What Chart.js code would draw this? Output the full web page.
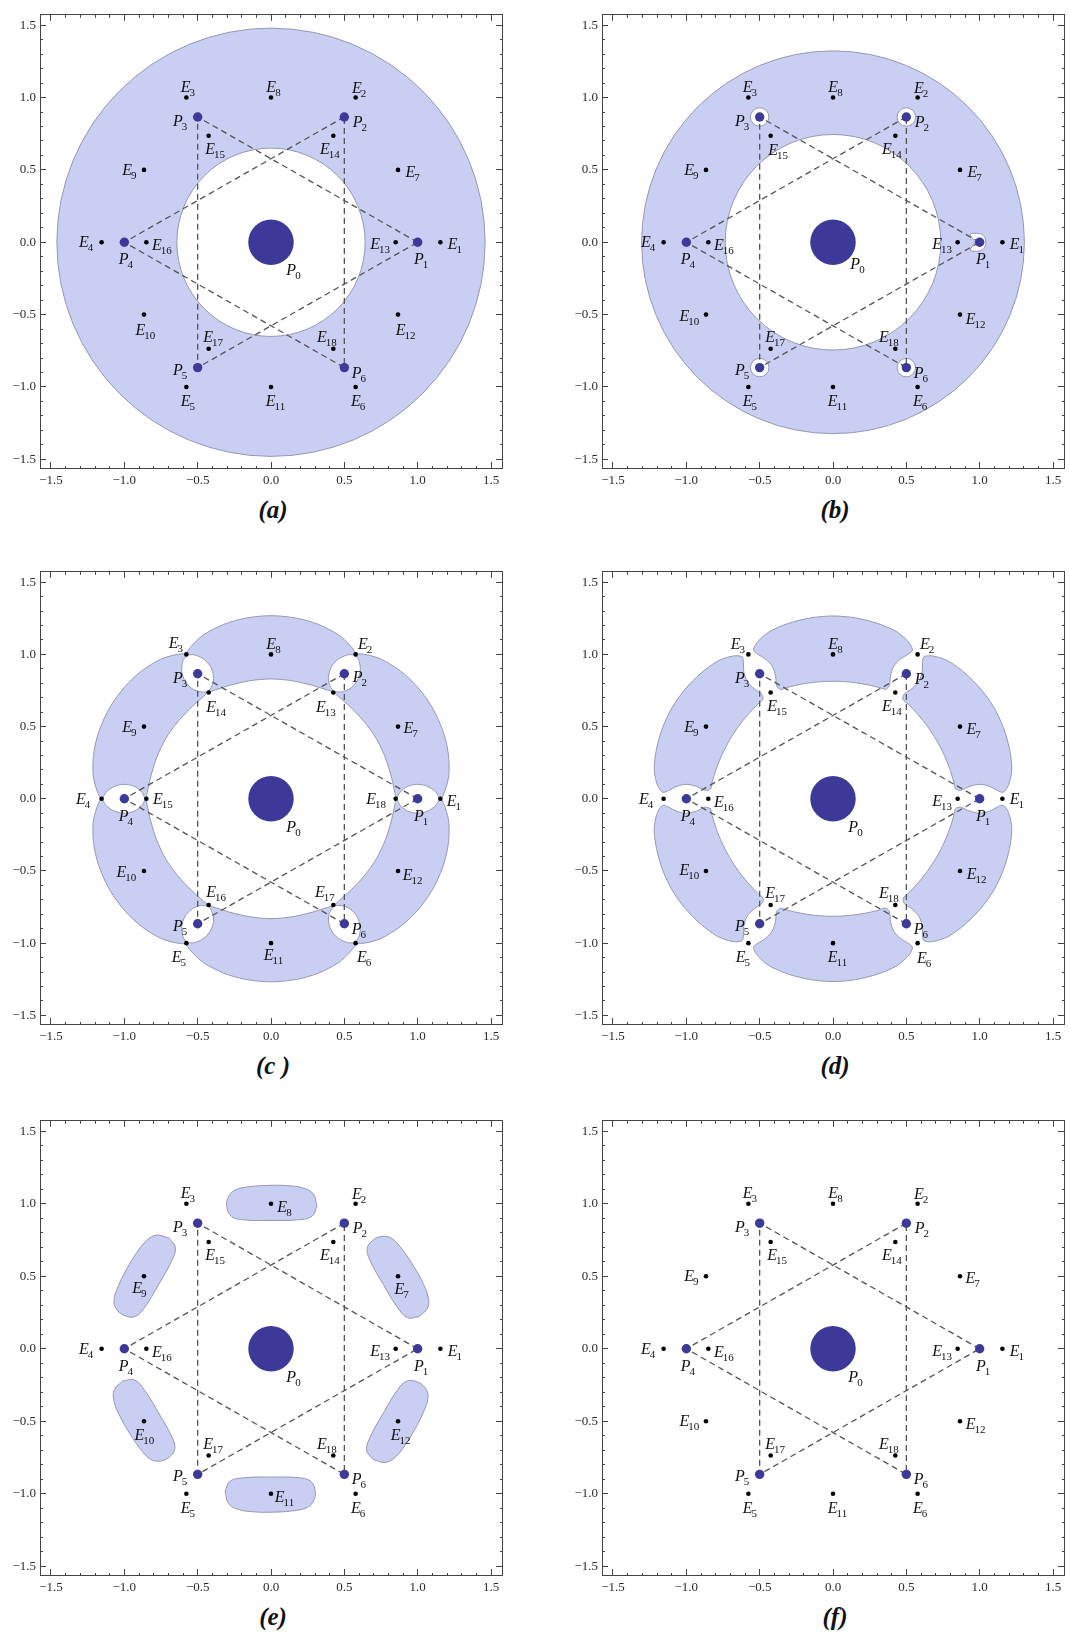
<!DOCTYPE html>
<html>
<head>
<meta charset="utf-8">
<title>Hill regions</title>
<script src="https://cdn.jsdelivr.net/npm/chart.js@4.4.1/dist/chart.umd.min.js"></script>
<style>
  html, body { margin: 0; padding: 0; background: #fff; }
  body { position: relative; width: 1069px; height: 1632px; overflow: hidden; }
  canvas { position: absolute; }
  .caption { position: absolute; transform: translate(-50%, -50%); font: bold italic 25px "Liberation Serif", "DejaVu Serif", serif; color: #111; white-space: pre; }
</style>
</head>
<body>
<script>
// ---- axes ----
var xRange = [-1.575, 1.575];
var yRange = [-1.56, 1.572];
var tickValues = [-1.5, -1, -0.5, 0, 0.5, 1, 1.5];
var tickLabels = ['\u22121.5', '\u22121.0', '\u22120.5', '0.0', '0.5', '1.0', '1.5'];

// ---- primaries P0..P6 ----
var pX = [0, 1, 0.5, -0.5, -1, -0.5, 0.5];
var pY = [0, 0, 0.866, 0.866, 0, -0.866, -0.866];
var p0Radius = 0.155;

// ---- equilibrium points E1..E18 ----
var eX = [1.155, 0.577, -0.577, -1.155, -0.577, 0.577, 0.866, 0, -0.866, -0.866, 0, 0.866, 0.85, 0.425, -0.425, -0.85, -0.425, 0.425];
var eY = [0, 1, 1, 0, -1, -1, 0.5, 1, 0.5, -0.5, -1, -0.5, 0, 0.736, 0.736, 0, -0.736, -0.736];
var eNums = [1, 2, 3, 4, 5, 6, 7, 8, 9, 10, 11, 12, 13, 14, 15, 16, 17, 18];
var eNumsC = [1, 2, 3, 4, 5, 6, 7, 8, 9, 10, 11, 12, 18, 13, 14, 15, 16, 17];

// dashed triangles, as P indices
var triangleA = [1, 3, 5, 1];
var triangleB = [2, 4, 6, 2];

// (a) ring: inner, outer radius
var ringA = [0.642, 1.46];
// (b) ring + small holes
var ringB = [0.735, 1.305];
var holesB = [2, 3, 5, 6];
var holeRadiusB = 0.063;
var notchBX = [-0.03, -0.064, -0.02, 0.015, 0.035, 0.042, 0.035, 0.015, -0.02, -0.064, -0.03];
var notchBY = [0, 0.056, 0.062, 0.055, 0.032, 0, -0.032, -0.055, -0.062, -0.056, 0];
// (c) one 60 degree piece: lobe half (radial u, side v), outer and inner edges (deg, r)
var lobeCU = [0.855, 0.88, 0.93, 1.0, 1.07, 1.125, 1.155];
var lobeCV = [0, 0.045, 0.085, 0.1, 0.085, 0.045, 0];
var outerCAng = [3, 8, 15, 22, 30, 38, 45, 52, 57];
var outerCRad = [1.19, 1.225, 1.25, 1.263, 1.268, 1.263, 1.25, 1.225, 1.19];
var innerCAng = [57, 50, 40, 30, 20, 10, 3];
var innerCRad = [0.845, 0.835, 0.83, 0.83, 0.83, 0.835, 0.845];
// (d)
var lobeDU = [0.835, 0.87, 0.93, 1.0, 1.07, 1.12, 1.16, 1.19, 1.21];
var lobeDV = [0.068, 0.058, 0.085, 0.1, 0.085, 0.058, 0.045, 0.08, 0.14];
var outerDAng = [10, 16, 23, 30, 37, 44, 50];
var outerDRad = [1.238, 1.252, 1.262, 1.266, 1.262, 1.252, 1.238];
var innerDAng = [52, 45, 38, 30, 22, 15, 8];
var innerDRad = [0.832, 0.822, 0.816, 0.814, 0.816, 0.822, 0.832];
// (e) blob around E8
var blobEX = [0.313, 0.29, 0.222, 0.108, 0, -0.144, -0.247, -0.293, -0.3, -0.27, -0.19, 0, 0.176, 0.279];
var blobEY = [0.984, 1.066, 1.108, 1.125, 1.127, 1.118, 1.094, 1.042, 0.972, 0.913, 0.889, 0.885, 0.889, 0.913];

// ---- styling ----
var frameColor = '#444';
var fillBlue = 'rgb(201,206,243)';
var edgeGray = 'rgb(150,152,178)';
var pBlue = 'rgb(60,57,152)';

var panelBoxes = {
  a: {left: 40, top: 5, right: 502, bottom: 468, caption: '(a)'},
  b: {left: 602, top: 5, right: 1064, bottom: 468, caption: '(b)'},
  c: {left: 40, top: 562, right: 502, bottom: 1024, caption: '(c )'},
  d: {left: 602, top: 562, right: 1064, bottom: 1024, caption: '(d)'},
  e: {left: 40, top: 1111, right: 502, bottom: 1575, caption: '(e)'},
  f: {left: 602, top: 1111, right: 1064, bottom: 1575, caption: '(f)'}
};

// label centre offsets in px
var offStd = {
  P0: [23, 28], P1: [4, 17], P2: [16, 5], P3: [-17, 4], P4: [2, 17], P5: [-17, 2], P6: [15, 5],
  E1: [15, 2], E2: [4, -10], E3: [2, -11], E4: [-15, 0], E5: [2, 14], E6: [3, 14],
  E7: [15, 2], E8: [3, -11], E9: [-14, 0], E10: [2, 15], E11: [5, 14], E12: [8, 15],
  E13: [-15, 2], E14: [-3, 13], E15: [7, 13], E16: [16, 3], E17: [5, -12], E18: [-6, -12]
};
var offPanel = {
  a: {},
  b: {E10: [-16, 1], E12: [16, 4], P0: [25, 22], E15: [8, 14]},
  c: {E1: [14, 2], E2: [10, -10], E3: [-10, -11], E4: [-18, 0], E5: [-7, 14], E6: [9, 14], E8: [3, -10], E7: [13, 1],
      E9: [-14, 0], E10: [-17, 1], E11: [3, 12], E12: [15, 4], E13: [-7, 14], E14: [8, 14], E15: [17, 0],
      E16: [8, -13], E17: [-8, -13], E18: [-19, 0], P2: [16, 3]},
  d: {E1: [15, 0], E2: [10, -10], E3: [-10, -10], E4: [-17, 0], E5: [-5, 14], E6: [7, 15], E7: [14, 2],
      E10: [-16, -1], E12: [17, 3], E8: [3, -10]},
  e: {E7: [4, 13], E8: [14, 3], E9: [-4, 12], E10: [1, 14], E11: [14, 3], E12: [3, 14]},
  f: {E10: [-16, 0], E12: [16, 3], E7: [13, 2]}
};

function rot(u, v, deg) {
  var a = deg * Math.PI / 180;
  return {x: u * Math.cos(a) - v * Math.sin(a), y: u * Math.sin(a) + v * Math.cos(a)};
}

function dataPx(chart, r) {
  var s = chart.scales.x;
  return Math.abs(s.getPixelForValue(r) - s.getPixelForValue(0));
}

function isMajor(v) { return Math.abs(v * 2 - Math.round(v * 2)) < 1e-6; }

function tickText(v) {
  for (var i = 0; i < tickValues.length; i++) {
    if (Math.abs(tickValues[i] - v) < 1e-6) return tickLabels[i];
  }
  return '';
}

function frameAxis(pos, range, labelled, size) {
  var horizontal = pos === 'bottom' || pos === 'top';
  var fromBorder = pos === 'bottom' || pos === 'right';
  return {
    type: 'linear', position: pos, min: range[0], max: range[1],
    afterFit: function (s) { if (horizontal) s.height = size; else s.width = size; },
    border: {display: true, color: frameColor, width: 1},
    grid: {
      drawOnChartArea: false, drawTicks: true, tickLength: -6, tickColor: frameColor, tickWidth: 1,
      tickBorderDash: function (c) {
        if (!c.tick || isMajor(c.tick.value)) return [];
        return fromBorder ? [3, 20] : [0, 3, 3, 20];
      }
    },
    ticks: {
      display: labelled, stepSize: 0.1, includeBounds: false, autoSkip: false,
      maxRotation: 0, minRotation: 0, padding: horizontal ? 11 : 10, color: '#2a2a2a',
      font: {family: '"Liberation Serif", "DejaVu Serif", serif', size: 13},
      callback: function (v) { return tickText(v); }
    }
  };
}

function polyDataset(pts, color, order, tension) {
  return {data: pts, showLine: true, fill: 'shape', backgroundColor: color, borderColor: edgeGray,
    borderWidth: 1, pointRadius: 0, tension: tension, order: order};
}

function discDataset(cx, cy, r, color, order) {
  return {data: [{x: cx, y: cy}], showLine: false, fill: false,
    pointRadius: function (c) { return dataPx(c.chart, r); },
    pointBackgroundColor: color, pointBorderColor: edgeGray, pointBorderWidth: 1, order: order};
}

function triangle(idx) {
  return {data: idx.map(function (i) { return {x: pX[i], y: pY[i]}; }), showLine: true, fill: false,
    borderColor: '#555', borderWidth: 1.3, borderDash: [6, 4], pointRadius: 0, tension: 0, order: 3};
}

function markerDatasets() {
  var eData = eX.map(function (x, i) { return {x: x, y: eY[i]}; });
  var pData = [];
  for (var i = 1; i < pX.length; i++) pData.push({x: pX[i], y: pY[i]});
  return [
    triangle(triangleA), triangle(triangleB),
    {data: eData, showLine: false, fill: false, pointRadius: 2.3, pointBackgroundColor: '#000', pointBorderWidth: 0, order: 2},
    {data: pData, showLine: false, fill: false, pointRadius: 4.7, pointBackgroundColor: pBlue, pointBorderWidth: 0, order: 1},
    {data: [{x: pX[0], y: pY[0]}], showLine: false, fill: false,
      pointRadius: function (c) { return dataPx(c.chart, p0Radius); },
      pointBackgroundColor: pBlue, pointBorderWidth: 0, order: 1}
  ];
}

function sectorPiece(k, lu, lv, oa, orr, ia, ir) {
  var base = 60 * k, pts = [], i, p;
  for (i = 0; i < lu.length; i++) pts.push(rot(lu[i], lv[i], base));
  for (i = 0; i < oa.length; i++) pts.push(rot(orr[i], 0, base + oa[i]));
  for (i = lu.length - 1; i >= 0; i--) pts.push(rot(lu[i], -lv[i], base + 60));
  for (i = 0; i < ia.length; i++) pts.push(rot(ir[i], 0, base + ia[i]));
  p = pts[0];
  pts.push({x: p.x, y: p.y});
  return pts;
}

function regionDatasets(key) {
  var ds = [], k, i;
  if (key === 'a') {
    ds.push(discDataset(0, 0, ringA[1], fillBlue, 8));
    ds.push(discDataset(0, 0, ringA[0], '#fff', 7));
  } else if (key === 'b') {
    ds.push(discDataset(0, 0, ringB[1], fillBlue, 8));
    ds.push(discDataset(0, 0, ringB[0], '#fff', 7));
    holesB.forEach(function (j) { ds.push(discDataset(pX[j], pY[j], holeRadiusB, '#fff', 7)); });
    var notch = notchBX.map(function (dx, n) { return {x: pX[1] + dx, y: pY[1] + notchBY[n]}; });
    ds.push(polyDataset(notch, '#fff', 7, 0.3));
  } else if (key === 'c') {
    for (k = 0; k < 6; k++) ds.push(polyDataset(sectorPiece(k, lobeCU, lobeCV, outerCAng, outerCRad, innerCAng, innerCRad), fillBlue, 8, 0.3));
  } else if (key === 'd') {
    for (k = 0; k < 6; k++) ds.push(polyDataset(sectorPiece(k, lobeDU, lobeDV, outerDAng, outerDRad, innerDAng, innerDRad), fillBlue, 8, 0.3));
  } else if (key === 'e') {
    for (k = 0; k < 6; k++) {
      var pts = [];
      for (i = 0; i < blobEX.length; i++) pts.push(rot(blobEX[i], blobEY[i], -60 * k));
      pts.push({x: pts[0].x, y: pts[0].y});
      ds.push(polyDataset(pts, fillBlue, 8, 0.4));
    }
  }
  return ds;
}

function labelItems(key) {
  var items = [], over = offPanel[key], nums = key === 'c' ? eNumsC : eNums;
  function off(name) { return over[name] || offStd[name]; }
  for (var i = 0; i < pX.length; i++) items.push({letter: 'P', sub: String(i), x: pX[i], y: pY[i], off: off('P' + i)});
  for (var j = 0; j < eX.length; j++) items.push({letter: 'E', sub: String(nums[j]), x: eX[j], y: eY[j], off: off('E' + nums[j])});
  return items;
}

function labelPlugin(items) {
  return {
    id: 'pointNames',
    afterDatasetsDraw: function (chart) {
      var ctx = chart.ctx, xs = chart.scales.x, ys = chart.scales.y;
      ctx.save();
      ctx.fillStyle = '#111';
      ctx.textAlign = 'left';
      ctx.textBaseline = 'alphabetic';
      items.forEach(function (it) {
        var cx = xs.getPixelForValue(it.x) + it.off[0];
        var cy = ys.getPixelForValue(it.y) + it.off[1];
        ctx.font = 'italic 16px "Liberation Serif", serif';
        var w1 = ctx.measureText(it.letter).width;
        ctx.font = '11px "Liberation Serif", serif';
        var w2 = ctx.measureText(it.sub).width;
        var x0 = cx - (w1 + w2) / 2;
        ctx.font = 'italic 16px "Liberation Serif", serif';
        ctx.fillText(it.letter, x0, cy + 5);
        ctx.font = '11px "Liberation Serif", serif';
        ctx.fillText(it.sub, x0 + w1 - 1, cy + 9);
      });
      ctx.restore();
    }
  };
}

function buildPanel(key) {
  var box = panelBoxes[key];
  var w = box.right - box.left + 52, h = box.bottom - box.top + 32;
  var canvas = document.createElement('canvas');
  canvas.width = w; canvas.height = h;
  canvas.style.left = (box.left - 40) + 'px';
  canvas.style.top = (box.top - 8) + 'px';
  canvas.style.width = w + 'px';
  canvas.style.height = h + 'px';
  document.body.appendChild(canvas);

  var cap = document.createElement('div');
  cap.className = 'caption';
  cap.textContent = box.caption;
  cap.style.left = ((box.left + box.right) / 2 + 2) + 'px';
  cap.style.top = (box.bottom + 42) + 'px';
  document.body.appendChild(cap);

  new Chart(canvas.getContext('2d'), {
    type: 'line',
    data: {datasets: regionDatasets(key).concat(markerDatasets())},
    options: {
      responsive: false, animation: false, devicePixelRatio: 1, events: [],
      layout: {padding: {top: 8, right: 12, bottom: 0, left: 0}},
      plugins: {legend: {display: false}, tooltip: {enabled: false}},
      scales: {
        x: frameAxis('bottom', xRange, true, 24),
        y: frameAxis('left', yRange, true, 40),
        x2: frameAxis('top', xRange, false, 0),
        y2: frameAxis('right', yRange, false, 0)
      }
    },
    plugins: [labelPlugin(labelItems(key))]
  });
}

['a', 'b', 'c', 'd', 'e', 'f'].forEach(buildPanel);
</script>
</body>
</html>
